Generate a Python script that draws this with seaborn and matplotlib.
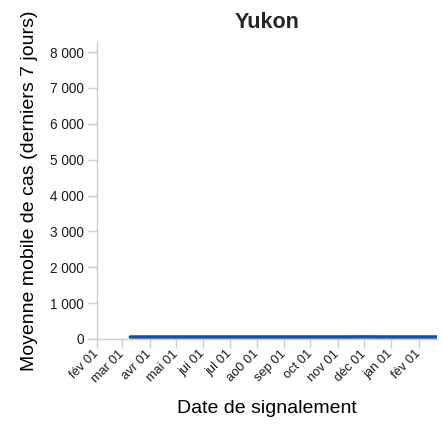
import matplotlib
matplotlib.use("Agg")
import matplotlib.pyplot as plt
import matplotlib.transforms as mtransforms
import seaborn as sns
import pandas as pd

# ---- data ----
dates = pd.to_datetime([
    "2020-03-10", "2020-04-01", "2020-05-01", "2020-06-01", "2020-07-01",
    "2020-08-01", "2020-09-01", "2020-10-01", "2020-11-01", "2020-12-01",
    "2021-01-01", "2021-02-01", "2021-02-22",
])
values = [55, 55, 55, 55, 55, 55, 55, 55, 55, 58, 55, 55, 55]

tick_dates = pd.to_datetime([
    "2020-02-01", "2020-03-01", "2020-04-01", "2020-05-01", "2020-06-01",
    "2020-07-01", "2020-08-01", "2020-09-01", "2020-10-01", "2020-11-01",
    "2020-12-01", "2021-01-01", "2021-02-01",
])
tick_labels = ["fév 01", "mar 01", "avr 01", "mai 01", "jui 01", "jul 01",
               "ao0 01", "sep 01", "oct 01", "nov 01", "déc 01", "jan 01", "fév 01"]
y_ticks = [0, 1000, 2000, 3000, 4000, 5000, 6000, 7000, 8000]
y_tick_labels = ["0", "1 000", "2 000", "3 000", "4 000", "5 000", "6 000", "7 000", "8 000"]

title = "Yukon"
x_label = "Date de signalement"
y_label = "Moyenne mobile de cas (derniers 7 jours)"

sns.set_style("white")
plt.rcParams["font.family"] = ["Liberation Sans", "DejaVu Sans"]

fig = plt.figure(figsize=(4.42, 4.29), dpi=100)
ax = fig.add_axes([97/442, 1 - 339/429, (437 - 97)/442, (339 - 42)/429])

df = pd.DataFrame({"date": dates, "value": values})
sns.lineplot(data=df, x="date", y="value", ax=ax, color="#1a4f9f", linewidth=2.6)

ax.set_xlim(pd.Timestamp("2020-02-01"), pd.Timestamp("2021-02-22"))
ax.set_ylim(0, 8280)

ax.set_xticks(tick_dates)
ax.set_xticklabels(tick_labels, rotation=45, ha="right", va="center",
                   rotation_mode="anchor", fontsize=9.3, color="#1a1a1a")
offset = mtransforms.ScaledTranslation(4/100, -4/100, fig.dpi_scale_trans)
for lbl in ax.get_xticklabels():
    lbl.set_transform(lbl.get_transform() + offset)
ax.set_yticks(y_ticks)
ax.set_yticklabels(y_tick_labels, fontsize=9.8, color="#1a1a1a")

for side in ["top", "right"]:
    ax.spines[side].set_visible(False)
for side in ["left", "bottom"]:
    ax.spines[side].set_color("#cccccc")
    ax.spines[side].set_linewidth(1)
ax.tick_params(axis="both", which="both", length=6.5, width=1, color="#cccccc",
               bottom=True, left=True, pad=3)

ax.set_xlabel(x_label, fontsize=14, labelpad=11, color="#000000")
ax.set_ylabel(y_label, fontsize=14, labelpad=8.5, color="#000000")
ax.set_title(title, fontsize=15.5, fontweight="bold", pad=10)
ax.grid(False)

fig.savefig("out.png", dpi=100)
